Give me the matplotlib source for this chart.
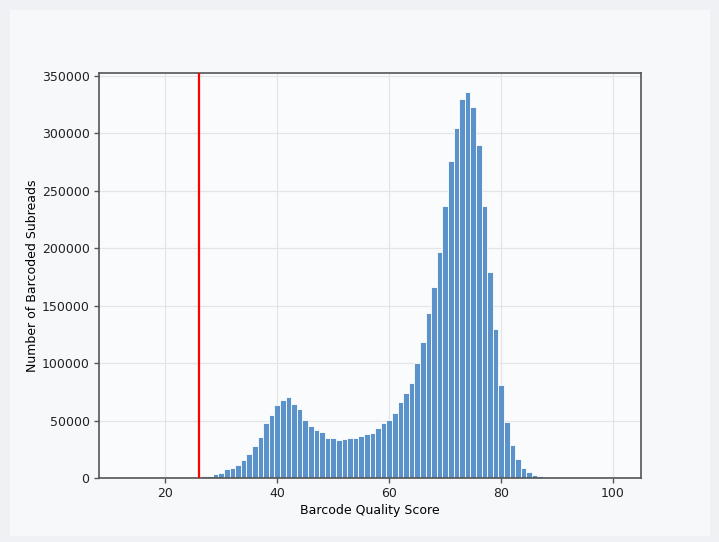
import matplotlib
matplotlib.use("Agg")
import matplotlib.pyplot as plt

# Barcode quality score bins (integer centres) and counts
scores = list(range(13, 101))
counts = [
    50, 60, 80, 100, 120, 150, 180, 200, 250, 300,      # 13-22
    350, 400, 600, 900, 1500, 2000, 3400, 4300, 7500,   # 23-31
    8500, 11500, 15800, 21000, 27500, 35800, 47800,     # 32-38
    54500, 63700, 67800, 70300, 64300, 59700, 50100,    # 39-45
    45400, 41600, 39900, 34400, 34400, 32900, 34200,    # 46-52
    35200, 34400, 36300, 38100, 39500, 43300, 48300,    # 53-59
    50300, 57000, 66000, 74400, 83000, 99700, 118700,   # 60-66
    144000, 166200, 196700, 236600, 275600, 304300,     # 67-72
    329900, 335800, 322700, 289800, 236600, 179500,     # 73-78
    129800, 80600, 48600, 29100, 16600, 8500, 5200,     # 79-85
    2600, 2100, 900, 400, 300, 600, 250, 200, 150,      # 86-94
    120, 100, 80, 60, 50, 40,                           # 95-100
]
threshold = 26

plt.rcParams['font.family'] = ['DejaVu Sans']
plt.rcParams['font.size'] = 9

fig = plt.figure(figsize=(7.19, 5.42), dpi=100, facecolor='#eff1f4')

# light card behind the plot
bg = fig.add_axes([10 / 719, 6 / 542, 700 / 719, 526 / 542], zorder=0)
bg.set_facecolor('#f7f8fa')
bg.set_xticks([])
bg.set_yticks([])
for s in bg.spines.values():
    s.set_visible(False)

ax = fig.add_axes([98.6 / 719, 1 - 478 / 542, (640.5 - 98.6) / 719, (478 - 73) / 542],
                  zorder=1)
ax.set_facecolor('#fafbfd')

ax.bar(scores, counts, width=1.0, color='#5a92c9', edgecolor='white',
       linewidth=0.6, zorder=2)
ax.axvline(threshold, color='red', linewidth=1.6, zorder=3)

ax.grid(True, color='#e4e5e8', linewidth=0.9, zorder=0)
ax.set_axisbelow(True)
for s in ax.spines.values():
    s.set_color('#555555')
    s.set_linewidth(1.2)
ax.tick_params(colors='#222222', length=3.5, width=1, color='#555555', pad=3)

ax.set_xlabel('Barcode Quality Score', labelpad=3)
ax.set_ylabel('Number of Barcoded Subreads', labelpad=2)
ax.set_yticks([0, 50000, 100000, 150000, 200000, 250000, 300000, 350000])
ax.set_xticks([20, 40, 60, 80, 100])

fig.savefig('out.png', dpi=100, facecolor=fig.get_facecolor())
